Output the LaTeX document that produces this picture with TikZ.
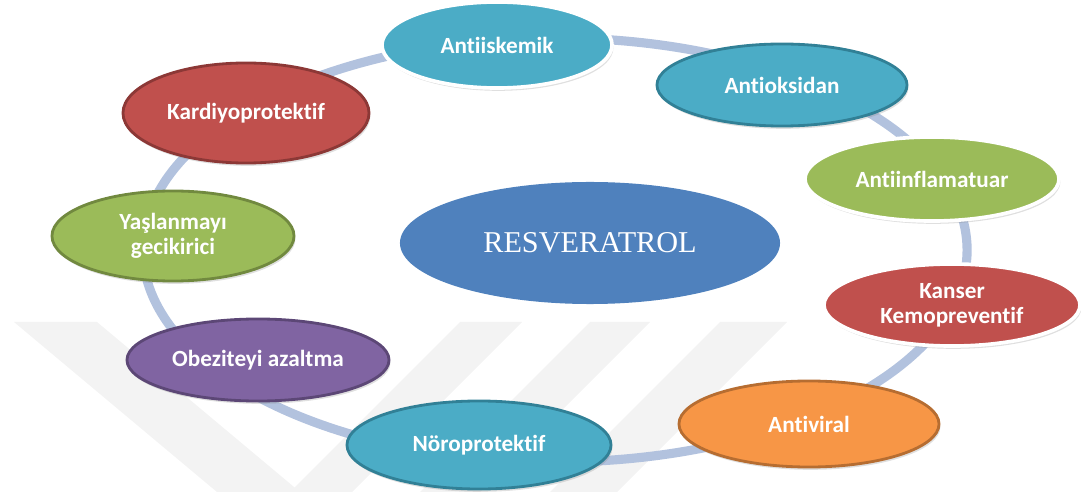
\documentclass[tikz,border=0pt]{standalone}
\usepackage{fontspec}
\setmainfont{Carlito}[Ligatures={NoCommon,NoRequired,NoContextual}]
\newfontfamily\serifrm{Liberation Serif}
\usetikzlibrary{shapes.geometric,shadows}
\definecolor{ringblue}{RGB}{178,194,222}
\definecolor{tealf}{RGB}{75,172,198}
\definecolor{tealb}{RGB}{49,128,150}
\definecolor{greenf}{RGB}{155,187,89}
\definecolor{greenb}{RGB}{113,137,63}
\definecolor{redf}{RGB}{192,80,77}
\definecolor{redb}{RGB}{140,56,54}
\definecolor{orangef}{RGB}{247,150,70}
\definecolor{orangeb}{RGB}{182,109,49}
\definecolor{purplef}{RGB}{128,100,162}
\definecolor{purpleb}{RGB}{92,71,118}
\definecolor{bluef}{RGB}{79,129,189}
\definecolor{wmark}{RGB}{243,243,243}
\tikzset{
  bubble/.style={ellipse, inner sep=0pt, align=center, text=white,
    font=\fontsize{16.5}{18}\selectfont\bfseries,
    drop shadow={opacity=0.25, shadow xshift=1pt, shadow yshift=-2pt}},
  lit/.style={bubble, fill=#1, draw=white, line width=2.6pt},
  rim/.style={bubble, fill=#1f, draw=#1b, line width=2pt},
}
\begin{document}
\begin{tikzpicture}[x=0.025cm, y=-0.025cm]
  \useasboundingbox (0,0) rectangle (1081,492);
  % faint watermark
  \begin{scope}
    \clip (0,0) rectangle (1081,492);
    \fill[wmark] (14,322) -- (97,322) -- (300,492) -- (217,492) -- cycle;
    \fill[wmark] (460,322) -- (522,322) -- (352,492) -- (290,492) -- cycle;
    \fill[wmark] (590,322) -- (650,322) -- (480,492) -- (420,492) -- cycle;
    \fill[wmark] (720,322) -- (787,322) -- (617,492) -- (550,492) -- cycle;
  \end{scope}
  % ring
  \draw[ringblue, line width=6.5pt] (555,250) ellipse [x radius=10.3cm, y radius=5.3cm];
  % centre
  \node[ellipse, fill=bluef, inner sep=0pt, minimum width=9.5cm, minimum height=3.05cm,
        text=white, font=\serifrm\fontsize{21.5}{23}\selectfont] (res) at (590,243) {RESVERATROL};
  % around the ring
  \node[lit=tealf, minimum width=5.75cm, minimum height=2.15cm] (isk) at (497,45) {Antiiskemik};
  \node[rim=teal, minimum width=6.25cm, minimum height=2.05cm] (oks) at (782,85) {Antioksidan};
  \node[lit=greenf, minimum width=6.35cm, minimum height=2.1cm] (inf) at (932,179) {Antiinflamatuar};
  \node[lit=redf, minimum width=6.4cm, minimum height=2.05cm] (kan) at (952,305) {Kanser\\Kemopreventif};
  \node[rim=orange, minimum width=6.5cm, minimum height=2.15cm] (vir) at (809,424) {Antiviral};
  \node[rim=teal, minimum width=6.6cm, minimum height=2.2cm] (nor) at (479,445) {Nöroprotektif};
  \node[rim=purple, minimum width=6.55cm, minimum height=2.05cm] (obe) at (258,360) {Obeziteyi azaltma};
  \node[rim=green, minimum width=6.05cm, minimum height=2.25cm] (yas) at (173,236) {Yaşlanmayı\\gecikirici};
  \node[rim=red, minimum width=6.15cm, minimum height=2.5cm] (kar) at (246,113) {Kardiyoprotektif};
\end{tikzpicture}
\end{document}
